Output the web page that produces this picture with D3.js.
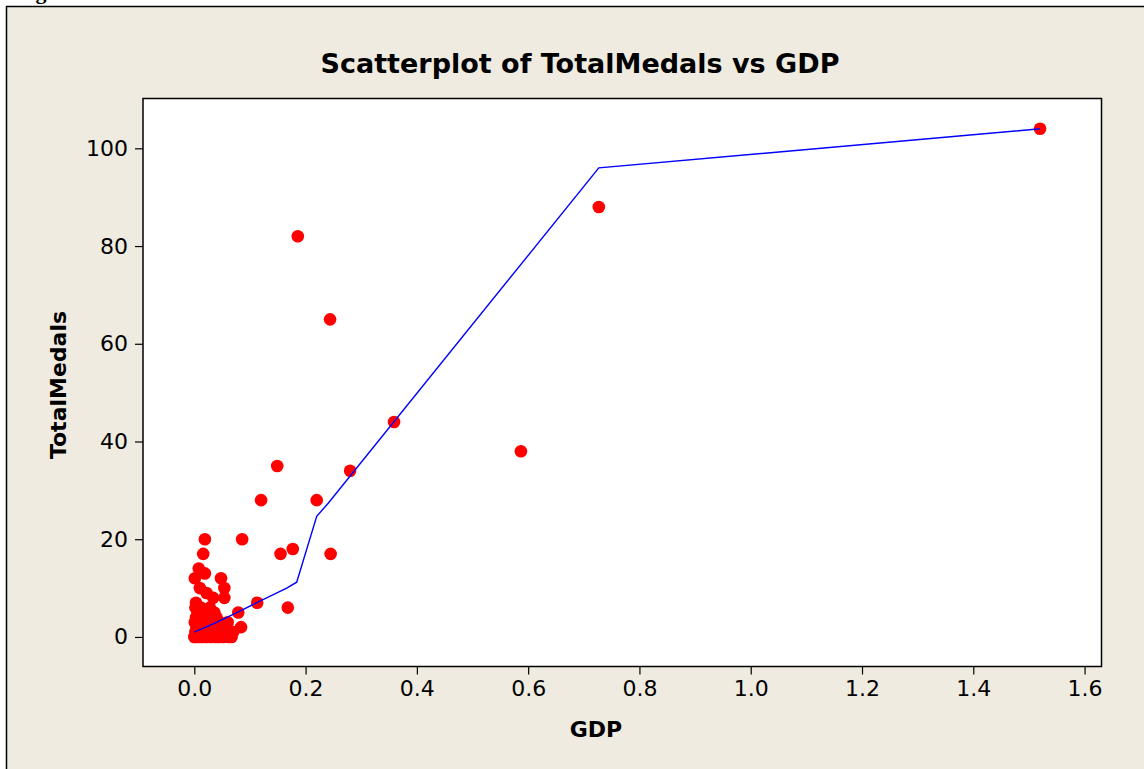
<!DOCTYPE html>
<html><head><meta charset="utf-8">
<script src="https://cdn.jsdelivr.net/npm/d3@7"></script>
<style>
html,body{margin:0;padding:0;background:#fff;}
svg{display:block;}
</style>
</head><body>
<svg id="chart" width="1144" height="769"></svg>
<script>
// ---- data ----
const gdp = [1.52,0.727,0.186,0.244,0.359,0.587,0.149,0.280,0.120,0.220,0.086,0.019,0.155,0.177,0.245,0.016,0.168,0.113,0.084,0.079,
  0.008,0.019,0.001,0.048,0.010,0.022,0.054,0.034,0.054,0.003,
  0.000,0.002,0.004,0.001,0.003,0.006,0.002,0.008,0.010,0.012,0.006,0.009,0.014,0.016,0.018,0.020,0.022,0.024,0.026,0.028,
  0.030,0.032,0.034,0.036,0.038,0.040,0.042,0.044,0.046,0.050,0.052,0.055,0.058,0.062,0.065,0.012,0.016,0.028,0.040,0.005,
  0.003,0.010,0.020,0.030,0.045,0.060,0.067,0.070];
const medals = [104,88,82,65,44,38,35,34,28,28,20,20,17,18,17,17,6,7,2,5,
  14,13,12,12,10,9,10,8,8,7,
  0,1,2,3,4,5,6,0,1,2,3,4,0,1,3,2,0,4,1,2,
  0,3,1,5,0,2,1,0,3,1,0,2,1,0,1,6,5,6,4,1,
  0,3,5,4,2,3,0,1];
// smoother (blue line) vertices
const fitX = [0.000,0.040,0.080,0.166,0.184,0.220,0.241,0.727,1.520];
const fitY = [1.0,3.0,5.2,10.0,11.2,24.7,27.4,96.0,104.0];
const xTicks = [0.0,0.2,0.4,0.6,0.8,1.0,1.2,1.4,1.6];
const yTicks = [0,20,40,60,80,100];
const title = "Scatterplot of TotalMedals vs GDP";
const xLabel = "GDP", yLabel = "TotalMedals";

// ---- layout ----
const svg = d3.select("#chart");
const plot = {l:143, t:98.5, r:1101.5, b:666.5};
const bg = "#EFEBE0";
const font = "'DejaVu Sans', Verdana, sans-serif";

svg.append("rect").attr("x",6.5).attr("y",6.5).attr("width",1160).attr("height",800)
  .attr("fill",bg).attr("stroke","#000").attr("stroke-width",1.5);
// partially visible caption above frame
svg.append("text").attr("x",16).attr("y",-1).attr("font-family","'Liberation Serif', serif")
  .attr("font-weight","bold").attr("font-size",22).attr("fill","#000").text("Figure");

const x = d3.scaleLinear().domain([-0.0922,1.6304]).range([plot.l,plot.r]);
const y = d3.scaleLinear().domain([-6.05,110.2]).range([plot.b,plot.t]);

svg.append("rect").attr("x",plot.l).attr("y",plot.t).attr("width",plot.r-plot.l).attr("height",plot.b-plot.t)
  .attr("fill","#fff");

const clipId="clipP";
svg.append("clipPath").attr("id",clipId).append("rect")
  .attr("x",plot.l).attr("y",plot.t).attr("width",plot.r-plot.l).attr("height",plot.b-plot.t);

const g = svg.append("g").attr("clip-path",`url(#${clipId})`);
const pts = gdp.map((v,i)=>({x:v,y:medals[i]}));
g.selectAll("circle").data(pts).enter().append("circle")
  .attr("cx",d=>x(d.x)).attr("cy",d=>y(d.y)).attr("r",6.3).attr("fill","#FF0000");

const fit = fitX.map((v,i)=>[v,fitY[i]]);
g.append("path").datum(fit).attr("fill","none").attr("stroke","#0000FF").attr("stroke-width",1.4)
  .attr("d",d3.line().x(d=>x(d[0])).y(d=>y(d[1])));

svg.append("rect").attr("x",plot.l).attr("y",plot.t).attr("width",plot.r-plot.l).attr("height",plot.b-plot.t)
  .attr("fill","none").attr("stroke","#000").attr("stroke-width",1.5);

// axes
const xAxis = d3.axisBottom(x).tickValues(xTicks).tickFormat(d3.format(".1f")).tickSize(8).tickSizeOuter(0).tickPadding(6);
const xa = svg.append("g").attr("transform",`translate(0,${plot.b})`).call(xAxis);
const yAxis = d3.axisLeft(y).tickValues(yTicks).tickFormat(d3.format("d")).tickSize(8).tickSizeOuter(0).tickPadding(7);
const ya = svg.append("g").attr("transform",`translate(${plot.l},0)`).call(yAxis);
[xa,ya].forEach(a=>{
  a.select(".domain").remove();
  a.selectAll(".tick line").attr("stroke","#000").attr("stroke-width",1.2);
  a.selectAll(".tick text").attr("font-family",font).attr("font-size",22).attr("fill","#000");
});

svg.append("text").attr("x",580).attr("y",73).attr("text-anchor","middle")
  .attr("font-family",font).attr("font-weight","bold").attr("font-size",27).attr("fill","#000").text(title);
svg.append("text").attr("x",596).attr("y",737).attr("text-anchor","middle")
  .attr("font-family",font).attr("font-weight","bold").attr("font-size",22).attr("fill","#000").text(xLabel);
svg.append("text").attr("transform","translate(66,385) rotate(-90)").attr("text-anchor","middle")
  .attr("font-family",font).attr("font-weight","bold").attr("font-size",22).attr("fill","#000").text(yLabel);
</script>
</body></html>
